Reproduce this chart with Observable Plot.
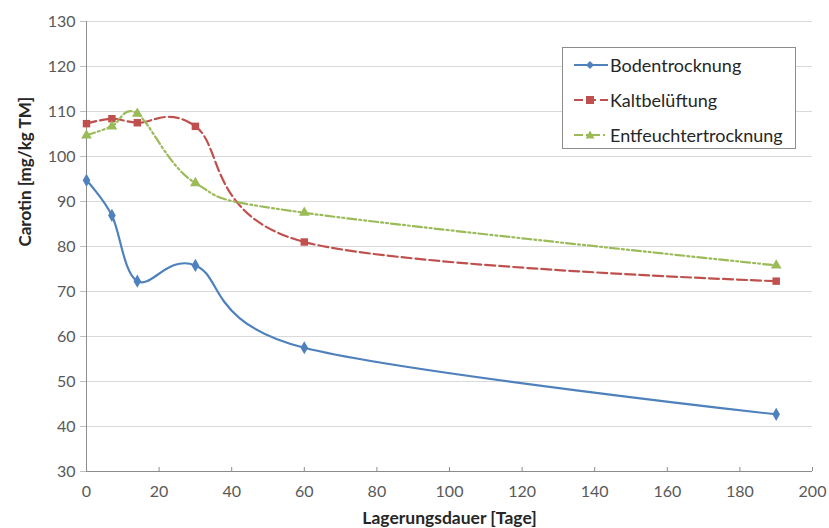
<!DOCTYPE html>
<html><head><meta charset="utf-8">
<script src="https://cdn.jsdelivr.net/npm/d3@7"></script>
<script src="https://cdn.jsdelivr.net/npm/@observablehq/plot@0.6"></script>
<style>
body{margin:0;background:#fff;font-family:Lato,"Open Sans",sans-serif;}
#wrap{position:relative;width:829px;height:528px;}
#legend{position:absolute;left:562px;top:47px;width:234px;height:102px;border:1px solid #8c8c8c;background:#fff;box-sizing:border-box;}
.row{position:absolute;left:10px;height:20px;display:flex;align-items:center;font-size:18px;color:#262626;}
.row svg{margin-right:1px;}
</style></head>
<body><div id="wrap"><div id="chart"></div><div id="legend"></div></div>
<script>
const days = [0, 7, 14, 30, 60, 190];
const boden = [94.7, 86.9, 72.3, 75.8, 57.5, 42.7];
const kalt = [107.3, 108.4, 107.5, 106.7, 81.0, 72.3];
const entf = [104.7, 106.7, 109.5, 94.1, 87.5, 75.8];
const seriesNames = ["Bodentrocknung", "Kaltbelüftung", "Entfeuchtertrocknung"];
const seriesColors = ["#4F81BD", "#C0504D", "#9BBB59"];
const seriesDash = [null, "10,4", "9,3,2,3,2,3"];
const seriesSymbol = ["diamond", "square", "triangle"];
const xTicks = d3.range(0, 201, 20);
const yTicks = d3.range(30, 131, 10);

const allValues = [boden, kalt, entf];
const data = allValues.map((vals, i) => days.map((d, j) => ({x: d, y: vals[j], s: seriesNames[i]})));

const marks = [
  Plot.gridY(yTicks, {stroke: "#d9d9d9", strokeOpacity: 1}),
  Plot.ruleX([0], {stroke: "#8c8c8c"}),
  Plot.ruleY([30], {stroke: "#8c8c8c"}),
  Plot.ruleX(xTicks, {y1: 30, y2: 30, insetTop: -4, stroke: "#8c8c8c"}),
  Plot.axisY(yTicks, {tickSize: 6, tickPadding: 5, fontSize: 16, color: "#595959", stroke: "#bfbfbf", label: null}),
  Plot.axisX(xTicks, {tickSize: 0, tickPadding: 14, fontSize: 16, color: "#595959", label: null}),
];
data.forEach((d, i) => {
  marks.push(Plot.line(d, {x: "x", y: "y", stroke: seriesColors[i], strokeWidth: 2.2, strokeDasharray: seriesDash[i], curve: "cardinal"}));
});
data.forEach((d, i) => {
  marks.push(Plot.dot(d, {x: "x", y: "y", fill: seriesColors[i], stroke: "none", symbol: seriesSymbol[i], r: i === 1 ? 4.2 : 4}));
});
marks.push(Plot.text(["Carotin [mg/kg TM]"], {frameAnchor: "left", dx: -61, rotate: -90, fontWeight: "bold", fontSize: 17, fill: "#262626"}));
marks.push(Plot.text(["Lagerungsdauer [Tage]"], {frameAnchor: "bottom", dy: 52, fontWeight: "bold", fontSize: 17.5, fill: "#262626"}));

const chart = Plot.plot({
  width: 829, height: 528,
  marginLeft: 86, marginRight: 17, marginTop: 21, marginBottom: 57,
  style: {fontFamily: "Lato, 'Open Sans', sans-serif", background: "#fff", overflow: "visible"},
  x: {domain: [0, 200]},
  y: {domain: [30, 130]},
  marks
});
document.getElementById("chart").append(chart);

const legend = document.getElementById("legend");
seriesNames.forEach((name, i) => {
  const row = document.createElement("div");
  row.className = "row";
  row.style.top = (7 + i * 35) + "px";
  const sym = i === 0 ? '<path d="M17,6 L21,10 L17,14 L13,10Z" fill="' + seriesColors[i] + '"/>'
    : i === 1 ? '<rect x="13" y="6" width="8" height="8" fill="' + seriesColors[i] + '"/>'
    : '<path d="M17,5.5 L21.5,13.5 L12.5,13.5Z" fill="' + seriesColors[i] + '"/>';
  row.innerHTML = '<svg width="36" height="20"><line x1="1" y1="10" x2="35" y2="10" stroke="' + seriesColors[i] + '" stroke-width="2.2"' + (seriesDash[i] ? ' stroke-dasharray="' + (i === 1 ? '9,4' : '9,3,2,3') + '"' : '') + '/>' + sym + '</svg><span>' + name + '</span>';
  legend.append(row);
});
</script></body></html>
